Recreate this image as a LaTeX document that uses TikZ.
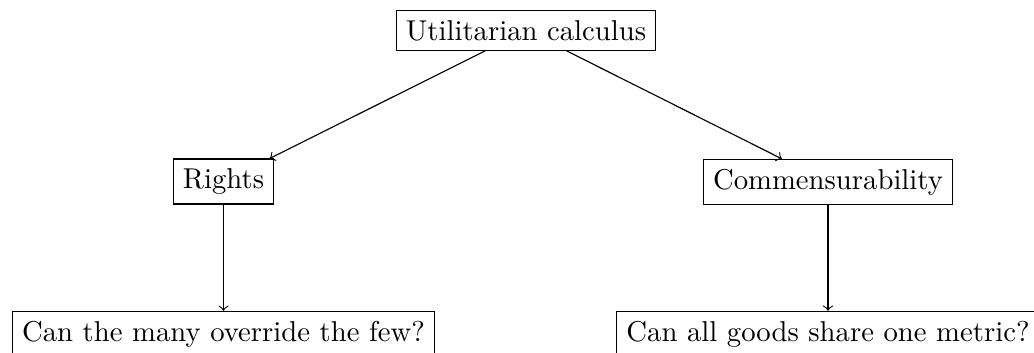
\documentclass[tikz,border=0pt]{standalone}
\begin{document}
\begin{tikzpicture}[x=0.3484pt,y=-0.3484pt,
  box/.style={draw,rectangle,inner sep=3.33pt},
  conn/.style={->}]
\clip (0,0) rectangle (1034,352);
\useasboundingbox (0,0) rectangle (1034,352);
\node[box] (top) at (526,30.5) {Utilitarian calculus};
\node[box] (rights) at (223.5,181.5) {Rights};
\node[box] (comm) at (828,182) {Commensurability};
\node[box] (q1) at (223.5,334) {Can the many override the few?};
\node[box] (q2) at (828,334) {Can all goods share one metric?};
\draw[conn] (top) -- (rights);
\draw[conn] (top) -- (comm);
\draw[conn] (rights) -- (q1);
\draw[conn] (comm) -- (q2);
\end{tikzpicture}
\end{document}
